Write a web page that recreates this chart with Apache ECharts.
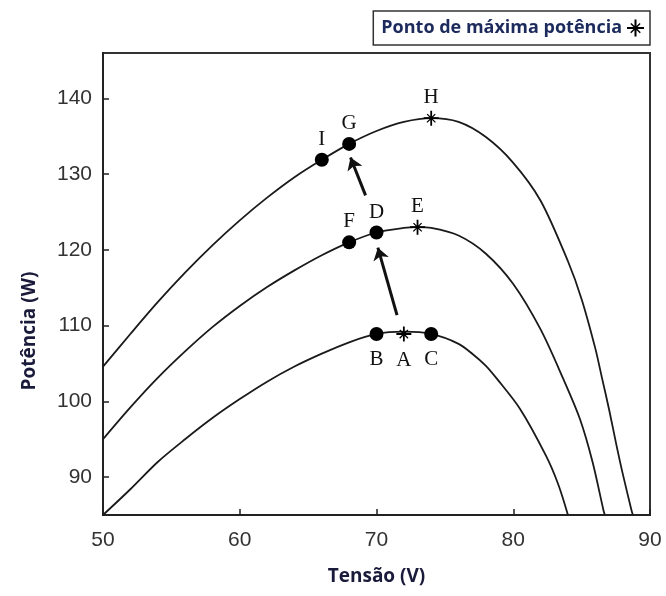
<!DOCTYPE html>
<html>
<head>
<meta charset="utf-8">
<script src="https://cdn.jsdelivr.net/npm/echarts@6/dist/echarts.min.js"></script>
<style>
  html, body { margin: 0; padding: 0; background: #fff; }
  #chart { width: 666px; height: 596px; }
</style>
</head>
<body>
<div id="chart"></div>
<script>
// curvas P-V (tensão V, potência W)
var curvaAlta = [[50,104.6],[52,108.9],[54,113.1],[56,117.0],[58,120.6],[60,123.9],[62,126.9],[64,129.6],[66,131.9],[68,134.0],[70,135.7],[72,136.9],[74,137.4],[76,136.9],[78,134.9],[80,131.5],[82,126.5],[84,118.5],[85,113.5],[86,107.0],[86.5,103.0],[87,99.0],[87.55,94.2],[88,90.5],[88.65,85.6],[88.75,85]];
var curvaMedia = [[50,95.0],[52,99.2],[54,103.1],[56,106.6],[58,109.8],[60,112.6],[62,115.1],[64,117.3],[66,119.3],[68,121.0],[70,122.3],[72,122.9],[73,123.0],[74,122.9],[76,121.9],[78,119.5],[80,115.5],[82,109.5],[83.65,103.0],[84.87,97.7],[85.8,92.0],[86.6,85.6],[86.7,85]];
var curvaBaixa = [[50,85.0],[52,88.4],[54,92.0],[56,95.0],[58,97.8],[60,100.3],[62,102.6],[64,104.6],[66,106.3],[68,107.8],[70,108.9],[72,109.2],[74,108.9],[76,107.6],[77,106.3],[78,104.7],[78.8,103.0],[80.5,99.0],[82.4,92.8],[83.3,89.0],[84,85]];

// pontos de operação (círculos) e de máxima potência (estrelas)
var pontosNomes = ['B','C','F','D','I','G'];
var pontosV = [70, 74, 68, 70, 66, 68];
var pontosP = [108.9, 108.9, 121.0, 122.3, 131.9, 134.0];
var mppNomes = ['A','E','H'];
var mppV = [72, 73, 74];
var mppP = [108.9, 123.0, 137.4];
var abaixo = ['A','B','C'];

// setas (início -> fim)
var setas = [
  [[71.5, 111.4], [70.1, 120.3]],
  [[69.2, 127.2], [68.1, 132.2]]
];

var xTicks = [50, 60, 70, 80, 90];
var yTicks = [90, 100, 110, 120, 130, 140];

var estrela = 'path://M8.8,0h2.4v20h-2.4z M0,8.8h20v2.4h-20z M5.2,4l11,11l-1.2,1.2l-11,-11z M14.8,4l1.2,1.2l-11,11l-1.2,-1.2z';

function labelPos(nome) {
  var baixo = abaixo.indexOf(nome) >= 0;
  return { position: baixo ? 'bottom' : 'top', distance: baixo ? 8 : 3 };
}

var pontosData = pontosNomes.map(function (n, i) {
  return { name: n, value: [pontosV[i], pontosP[i]], label: labelPos(n) };
});
var mppData = mppNomes.map(function (n, i) {
  return { name: n, value: [mppV[i], mppP[i]], label: labelPos(n) };
});

var letra = {
  show: true,
  formatter: '{b}',
  fontFamily: 'Liberation Serif',
  fontSize: 21,
  color: '#111'
};

var curva = function (d) {
  return {
    type: 'line',
    data: d,
    showSymbol: false,
    smooth: 0.3,
    lineStyle: { color: '#1a1a1a', width: 1.8 },
    silent: true,
    z: 2
  };
};

var chart = echarts.init(document.getElementById('chart'));
chart.setOption({
  animation: false,
  backgroundColor: '#fff',
  grid: {
    left: 103, right: 16, top: 53, bottom: 81,
    show: true, borderColor: '#333', borderWidth: 2
  },
  legend: {
    right: 16, top: 11,
    align: 'right',
    padding: [5, 6, 5, 8],
    itemGap: 4,
    borderColor: '#333', borderWidth: 1.5,
    backgroundColor: '#fff',
    itemWidth: 17, itemHeight: 17,
    data: [{ name: 'Ponto de máxima potência', icon: estrela, itemStyle: { color: '#000', opacity: 1 } }],
    textStyle: { fontFamily: 'Open Sans', fontWeight: 'bold', fontSize: 18, lineHeight: 24, color: '#1c2a5c' }
  },
  xAxis: {
    type: 'value',
    min: 50, max: 90, interval: 10,
    name: 'Tensão (V)', nameLocation: 'middle', nameGap: 52,
    nameTextStyle: { fontFamily: 'Open Sans', fontWeight: 'bold', fontSize: 19, color: '#1a1a3a' },
    axisLine: { lineStyle: { color: '#222', width: 2 } },
    axisTick: { inside: true, length: 6, lineStyle: { color: '#222', width: 1.5 } },
    axisLabel: { margin: 15, fontFamily: 'Liberation Sans', fontSize: 21, color: '#333',
      customValues: xTicks },
    splitLine: { show: false }
  },
  yAxis: {
    type: 'value',
    min: 85, max: 146,
    name: 'Potência (W)', nameLocation: 'middle', nameGap: 64,
    nameTextStyle: { fontFamily: 'Open Sans', fontWeight: 'bold', fontSize: 19, color: '#1a1a3a',
      padding: [0, 94, 0, 0] },
    axisLine: { lineStyle: { color: '#222', width: 2 } },
    axisTick: { inside: true, length: 6, lineStyle: { color: '#222', width: 1.5 },
      customValues: yTicks },
    axisLabel: { margin: 11, fontFamily: 'Liberation Sans', fontSize: 21, color: '#333',
      customValues: yTicks },
    splitLine: { show: false }
  },
  series: [
    curva(curvaAlta),
    curva(curvaMedia),
    curva(curvaBaixa),
    {
      type: 'lines',
      coordinateSystem: 'cartesian2d',
      symbol: ['none', 'arrow'],
      symbolSize: 12,
      lineStyle: { color: '#111', width: 3, opacity: 1 },
      data: setas.map(function (s) { return { coords: s }; }),
      silent: true,
      z: 3
    },
    {
      type: 'scatter',
      name: 'pontos',
      data: pontosData,
      symbol: 'circle',
      symbolSize: 14,
      itemStyle: { color: '#000', opacity: 1 },
      label: letra,
      z: 4
    },
    {
      type: 'scatter',
      name: 'Ponto de máxima potência',
      data: mppData,
      symbol: estrela,
      symbolSize: 15,
      itemStyle: { color: '#000', opacity: 1 },
      label: letra,
      z: 4
    }
  ]
});
</script>
</body>
</html>
